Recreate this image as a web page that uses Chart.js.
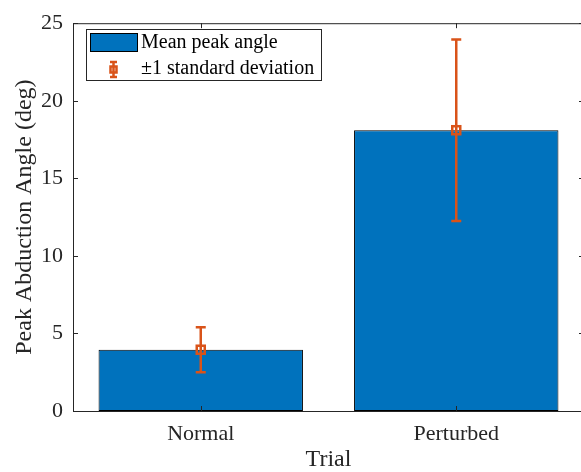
<!DOCTYPE html>
<html>
<head>
<meta charset="utf-8">
<script src="https://cdn.jsdelivr.net/npm/chart.js@4/dist/chart.umd.min.js"></script>
<style>
  html, body { margin: 0; padding: 0; background: #fff; overflow: hidden; }
  #wrap { width: 600px; height: 472px; }
</style>
</head>
<body>
<div id="wrap"><canvas id="chart" width="600" height="472" style="width:600px;height:472px"></canvas></div>
<script>
const trials = ['Normal', 'Perturbed'];
const meanPeak = [3.95, 18.1];
const stdDev = [1.45, 5.85];
const yTicks = [0, 5, 10, 15, 20, 25];

const AXIS_COLOR = '#262626';
const BAR_COLOR = '#0072BD';
const ERR_COLOR = '#D95319';
const FONT = '"Liberation Serif", "Times New Roman", serif';

// small square marker with caps, like matlab errorbar 's' marker
function drawErrorBar(ctx, x, yTop, yMid, yBot, cap, sq, lw) {
  ctx.save();
  ctx.strokeStyle = ERR_COLOR;
  ctx.lineWidth = lw;
  ctx.beginPath();
  ctx.moveTo(x, yTop); ctx.lineTo(x, yBot);
  ctx.moveTo(x - cap, yTop); ctx.lineTo(x + cap, yTop);
  ctx.moveTo(x - cap, yBot); ctx.lineTo(x + cap, yBot);
  ctx.stroke();
  ctx.strokeRect(x - sq, yMid - sq, sq * 2, sq * 2);
  ctx.restore();
}

const matlabAxes = {
  id: 'matlabAxes',
  afterDatasetsDraw(chart) {
    const ctx = chart.ctx;
    const area = chart.chartArea;
    const xs = chart.scales.x;
    const ys = chart.scales.y;
    const tick = 5;

    // box + inward ticks
    ctx.save();
    ctx.strokeStyle = AXIS_COLOR;
    ctx.lineWidth = 1;
    ctx.strokeRect(area.left + 0.5, area.top + 0.5, area.right - area.left, area.bottom - area.top);
    ctx.beginPath();
    yTicks.forEach(v => {
      const py = Math.round(ys.getPixelForValue(v)) + 0.5;
      ctx.moveTo(area.left, py); ctx.lineTo(area.left + tick, py);
      ctx.moveTo(area.right, py); ctx.lineTo(area.right - tick, py);
    });
    trials.forEach((t, i) => {
      const px = Math.round(xs.getPixelForValue(i)) + 0.5;
      ctx.moveTo(px, area.bottom); ctx.lineTo(px, area.bottom - tick);
      ctx.moveTo(px, area.top); ctx.lineTo(px, area.top + tick);
    });
    ctx.stroke();
    ctx.restore();

    // error bars
    const meta = chart.getDatasetMeta(0);
    meta.data.forEach((bar, i) => {
      drawErrorBar(ctx, bar.x,
        ys.getPixelForValue(meanPeak[i] + stdDev[i]),
        ys.getPixelForValue(meanPeak[i]),
        ys.getPixelForValue(meanPeak[i] - stdDev[i]), 5, 4, 2.5);
    });

    // legend box
    const lx = 86, ly = 29, lw = 235, lh = 51;
    ctx.save();
    ctx.fillStyle = '#fff';
    ctx.fillRect(lx, ly, lw, lh);
    ctx.strokeStyle = AXIS_COLOR;
    ctx.lineWidth = 1;
    ctx.strokeRect(lx + 0.5, ly + 0.5, lw, lh);
    ctx.fillStyle = BAR_COLOR;
    ctx.fillRect(90, 33, 47, 18);
    ctx.strokeStyle = '#000';
    ctx.strokeRect(90.5, 33.5, 47, 18);
    ctx.fillStyle = '#000';
    ctx.font = '20px ' + FONT;
    ctx.textBaseline = 'middle';
    ctx.textAlign = 'left';
    ctx.fillText('Mean peak angle', 141, 43);
    ctx.fillText('\u00B11 standard deviation', 141, 69);
    ctx.restore();
    drawErrorBar(ctx, 113.5, 62, 69.5, 77, 3.5, 3, 2.5);
  }
};

const ctx = document.getElementById('chart').getContext('2d');
new Chart(ctx, {
  type: 'bar',
  data: {
    labels: trials,
    datasets: [{
      label: 'Mean peak angle',
      data: meanPeak,
      backgroundColor: BAR_COLOR,
      borderColor: '#000',
      borderWidth: 1,
      borderSkipped: false,
      barPercentage: 0.8,
      categoryPercentage: 1.0
    }]
  },
  options: {
    responsive: false,
    animation: false,
    layout: { padding: { top: 16, right: 16, left: 0, bottom: 0 } },
    plugins: {
      legend: { display: false },
      tooltip: { enabled: false }
    },
    scales: {
      x: {
        offset: true,
        grid: { display: false, drawTicks: false },
        border: { display: false },
        ticks: { color: AXIS_COLOR, font: { family: FONT, size: 22 }, padding: 10 },
        title: {
          display: true, text: 'Trial', color: AXIS_COLOR,
          font: { family: FONT, size: 24, lineHeight: 1 }, padding: 0
        },
        afterFit: s => { s.height = 61; }
      },
      y: {
        min: 0,
        max: 25,
        afterBuildTicks: s => { s.ticks = yTicks.map(v => ({ value: v })); },
        grid: { display: false, drawTicks: false },
        border: { display: false },
        ticks: { color: AXIS_COLOR, font: { family: FONT, size: 22 }, padding: 10 },
        title: {
          display: true, text: 'Peak Abduction Angle (deg)', color: AXIS_COLOR,
          font: { family: FONT, size: 24, lineHeight: 1 }, padding: { top: 13, bottom: 0 }
        },
        afterFit: s => { s.width = 73; }
      }
    }
  },
  plugins: [matlabAxes]
});
</script>
</body>
</html>
